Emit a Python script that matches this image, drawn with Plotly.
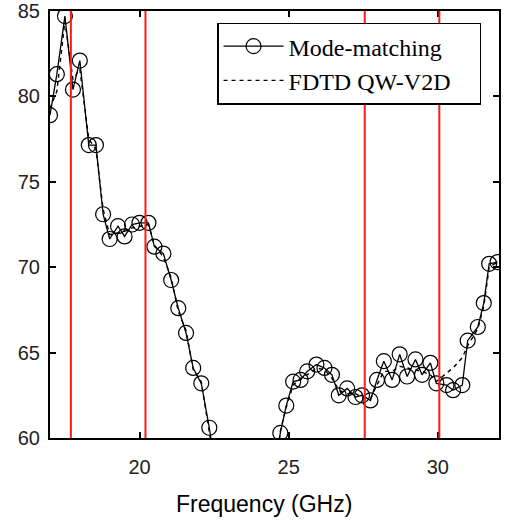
import plotly.graph_objects as go

# Mode-matching (solid line with open circles)
mm_freq = [17.0, 17.23, 17.5, 17.77, 18.0, 18.3, 18.54, 18.78, 19.0, 19.28, 19.5, 19.75,
           20.0, 20.3, 20.5, 20.8, 21.06, 21.3, 21.56, 21.8, 22.07, 22.34, 22.6,
           24.5, 24.72, 24.92, 25.15, 25.4, 25.62, 25.93, 26.2, 26.45, 26.68, 26.96,
           27.24, 27.46, 27.74, 27.96, 28.19, 28.47, 28.72, 28.97, 29.25, 29.47, 29.75,
           29.95, 30.29, 30.51, 30.82, 31.0, 31.34, 31.54, 31.72, 32.0]
mm_val = [78.9, 81.3, 84.7, 80.4, 82.1, 77.15, 77.15, 73.1, 71.65, 72.4, 71.8, 72.5,
          72.6, 72.6, 71.2, 70.8, 69.25, 67.6, 66.15, 64.1, 63.2, 60.6, 57.5,
          57.5, 60.3, 61.9, 63.3, 63.4, 63.9, 64.3, 64.1, 63.7, 62.5, 62.9,
          62.4, 62.5, 62.2, 63.4, 64.5, 63.4, 64.9, 63.6, 64.6, 63.7, 64.4,
          63.2, 63.1, 62.8, 63.1, 65.7, 66.5, 67.9, 70.2, 70.3]

# FDTD QW-V2D (dashed line)
fdtd_freq = [17.0, 17.23, 17.5, 17.77, 18.0, 18.3, 18.54, 18.78, 19.0, 19.28, 19.5, 19.75,
             20.0, 20.3, 20.5, 20.8, 21.06, 21.3, 21.56, 21.8, 22.07, 22.34, 22.6,
             24.5, 24.72, 24.92, 25.15, 25.4, 25.62, 25.93, 26.2, 26.45, 26.68, 26.96,
             27.24, 27.46, 27.74, 27.96, 28.19, 28.47, 28.72, 28.97, 29.25, 29.47, 29.75,
             29.95, 30.29, 30.51, 30.82, 31.0, 31.34, 31.54, 31.72, 32.0]
fdtd_val = [79.3, 80.3, 84.4, 81.0, 81.6, 77.5, 76.9, 73.4, 71.9, 72.0, 72.1, 72.3,
            72.4, 72.5, 71.3, 70.6, 69.4, 67.4, 66.3, 64.0, 63.3, 60.4, 57.5,
            57.5, 60.4, 61.8, 63.1, 63.5, 63.7, 64.1, 64.0, 63.5, 62.8, 62.6,
            62.6, 62.4, 62.3, 63.1, 63.9, 63.9, 64.2, 64.1, 64.0, 63.9, 63.7,
            63.3, 63.8, 64.1, 64.7, 65.4, 66.4, 67.7, 70.0, 70.3]

# Vertical red reference lines (GHz)
red_lines = [17.7, 20.2, 27.55, 30.05]

x_ticks = [20, 25, 30]
y_ticks = [60, 65, 70, 75, 80, 85]

series_names = ["Mode-matching", "FDTD QW-V2D"]
pad = "\u00a0" * 4

fig = go.Figure()
fig.add_trace(go.Scatter(
    x=mm_freq, y=mm_val, mode="lines+markers", name=series_names[0] + pad,
    line=dict(color="black", width=1.3),
    marker=dict(symbol="circle-open", size=15, color="black", line=dict(width=1.2)),
))
fig.add_trace(go.Scatter(
    x=fdtd_freq, y=fdtd_val, mode="lines", name=series_names[1] + pad,
    line=dict(color="black", width=1.4, dash="4px,4px"),
))

for xv in red_lines:
    fig.add_shape(type="line", x0=xv, x1=xv, y0=0, y1=1, xref="x", yref="paper",
                  line=dict(color="#ff1a1a", width=2), layer="above")

axis_common = dict(
    showgrid=False, zeroline=False, showline=True, linecolor="black", linewidth=2,
    ticks="inside", ticklen=6, tickwidth=1.5, tickcolor="black", mirror="ticks",
    automargin=False,
    tickfont=dict(family="Liberation Sans", size=20, color="#222222"),
)
fig.update_xaxes(range=[17, 32.05], tickvals=x_ticks, ticklabelstandoff=10, **axis_common)
fig.update_yaxes(range=[60, 85], tickvals=y_ticks, ticklabelstandoff=4, **axis_common)

fig.add_annotation(text="Frequency (GHz)", xref="paper", yref="paper", x=0.4766, y=-0.155,
                   showarrow=False, xanchor="center", yanchor="middle",
                   font=dict(family="Liberation Sans", size=23, color="black"))

fig.update_layout(
    width=509, height=529,
    margin=dict(l=50, r=10, t=11, b=91, autoexpand=False),
    paper_bgcolor="white", plot_bgcolor="white",
    legend=dict(x=0.372, y=0.973, xanchor="left", yanchor="top",
                bgcolor="white", bordercolor="black", borderwidth=1.5,
                font=dict(family="Liberation Serif", size=24, color="black"),
                tracegroupgap=0, itemwidth=60),
    showlegend=True,
)

fig.write_html("out.html", config={"displayModeBar": False},
               post_script="document.body.style.margin='0';document.body.style.overflow='hidden';")
